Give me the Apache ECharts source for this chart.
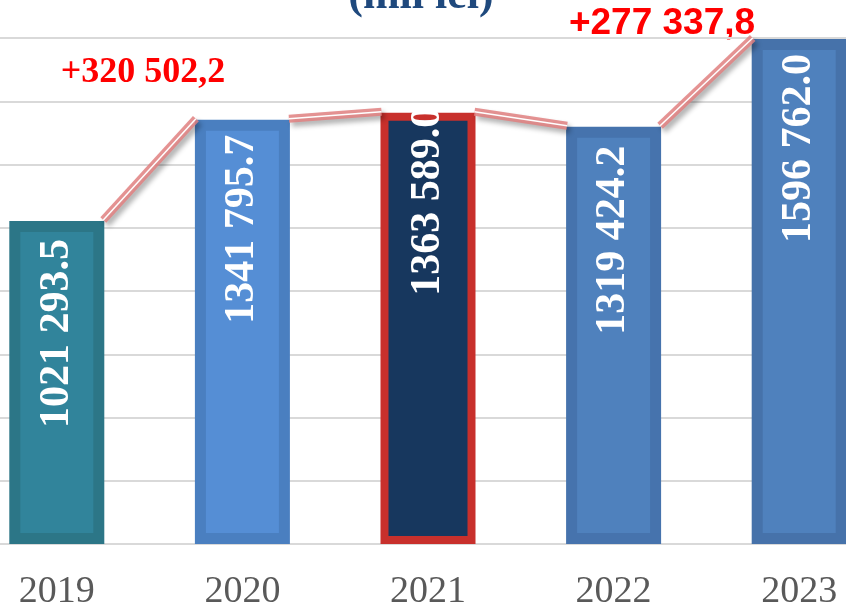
<!DOCTYPE html>
<html>
<head>
<meta charset="utf-8">
<script src="https://cdn.jsdelivr.net/npm/echarts@6/dist/echarts.min.js"></script>
<style>
  html, body { margin: 0; padding: 0; background: #fff; overflow: hidden; }
  /* the reference is cropped: first and last bands run past the edges */
  #chart { width: 928px; height: 606px; margin-left: -36px; }
</style>
</head>
<body>
<div id="chart"></div>
<script>
// data
const years = ['2019', '2020', '2021', '2022', '2023']
const revenue = [1021293.5, 1341795.7, 1363589.0, 1319424.2, 1596762.0]
const yMax = 1600000
const yStep = 200000
const gainTexts = ['+320 502,2', '+277 337,8']
const unitText = '(mii lei)'

// look
const barFill = ['#31849b', '#558ed5', '#17375e', '#4f81bd', '#4f81bd']
const barEdge = ['#2c7687', '#4a7fc0', '#c8302c', '#4673ad', '#4672aa']
const barEdgeWidth = [11, 11, 8, 11, 11]
const labelGap = [18, 15, -6, 19, 15]
const BAR_W = 95
const SHIFT = 36

// 1021293.5 -> "1021 293.5"
function fmt(v) {
  const parts = v.toFixed(1).split('.')
  const n = parts[0]
  return n.slice(0, -3) + ' ' + n.slice(-3) + '.' + parts[1]
}

const chart = echarts.init(document.getElementById('chart'))

chart.setOption({
  animation: false,
  grid: { left: 0, right: 0, top: 38, bottom: 62, outerBoundsMode: 'none', containLabel: false },
  xAxis: {
    type: 'category',
    data: years,
    axisTick: { show: false },
    axisLine: { lineStyle: { color: '#d9d9d9', width: 2 } },
    axisLabel: {
      color: '#595959',
      fontFamily: 'Liberation Serif',
      fontSize: 38,
      margin: 29
    }
  },
  yAxis: {
    type: 'value',
    min: 0,
    max: yMax,
    interval: yStep,
    axisLabel: { show: false },
    axisLine: { show: false },
    axisTick: { show: false },
    splitLine: { lineStyle: { color: '#d9d9d9', width: 2 } }
  },
  graphic: [
    {
      type: 'text', x: 421 + SHIFT, y: 19,
      style: {
        text: unitText, fill: '#1f497d',
        font: 'bold 44px "Liberation Serif"',
        align: 'center', verticalAlign: 'bottom'
      }
    },
    {
      type: 'text', x: 143 + SHIFT, y: 91,
      style: {
        text: gainTexts[0], fill: '#ff0000',
        font: 'bold 36px "Liberation Serif"',
        align: 'center', verticalAlign: 'bottom'
      }
    },
    {
      type: 'text', x: 662 + SHIFT, y: 42,
      style: {
        text: gainTexts[1], fill: '#ff0000',
        font: 'bold 37px "Liberation Sans"',
        align: 'center', verticalAlign: 'bottom'
      }
    }
  ],
  series: [
    {
      type: 'bar',
      barWidth: BAR_W,
      data: revenue.map((v, i) => ({
        value: v,
        itemStyle: {
          color: barFill[i],
          borderColor: barEdge[i],
          borderWidth: barEdgeWidth[i]
        },
        label: { distance: labelGap[i] }
      })),
      label: {
        show: true,
        position: 'insideTop',
        rotate: 90,
        align: 'right',
        verticalAlign: 'middle',
        color: '#fff',
        fontFamily: 'Liberation Serif',
        fontWeight: 'bold',
        fontSize: 42,
        formatter: p => fmt(p.value)
      }
    },
    {
      // connectors between neighbouring bar tops
      type: 'custom',
      z: 5,
      data: revenue.slice(0, -1).map((v, i) => [i, v, revenue[i + 1]]),
      renderItem: (params, api) => {
        const i = api.value(0)
        const a = api.coord([i, api.value(1)])
        const b = api.coord([i + 1, api.value(2)])
        const half = BAR_W / 2
        const shape = {
          x1: a[0] + half - 1, y1: a[1] - 1,
          x2: b[0] - half + 1, y2: b[1] - 1
        }
        return {
          type: 'group',
          children: [
            {
              type: 'line', shape,
              style: {
                stroke: 'rgba(224,128,128,0.85)', lineWidth: 8,
                shadowColor: 'rgba(0,0,0,0.35)', shadowBlur: 5,
                shadowOffsetX: 3, shadowOffsetY: 4
              }
            },
            {
              type: 'line', shape,
              style: { stroke: '#fff', lineWidth: 1.5 }
            }
          ]
        }
      }
    }
  ]
})
</script>
</body>
</html>
